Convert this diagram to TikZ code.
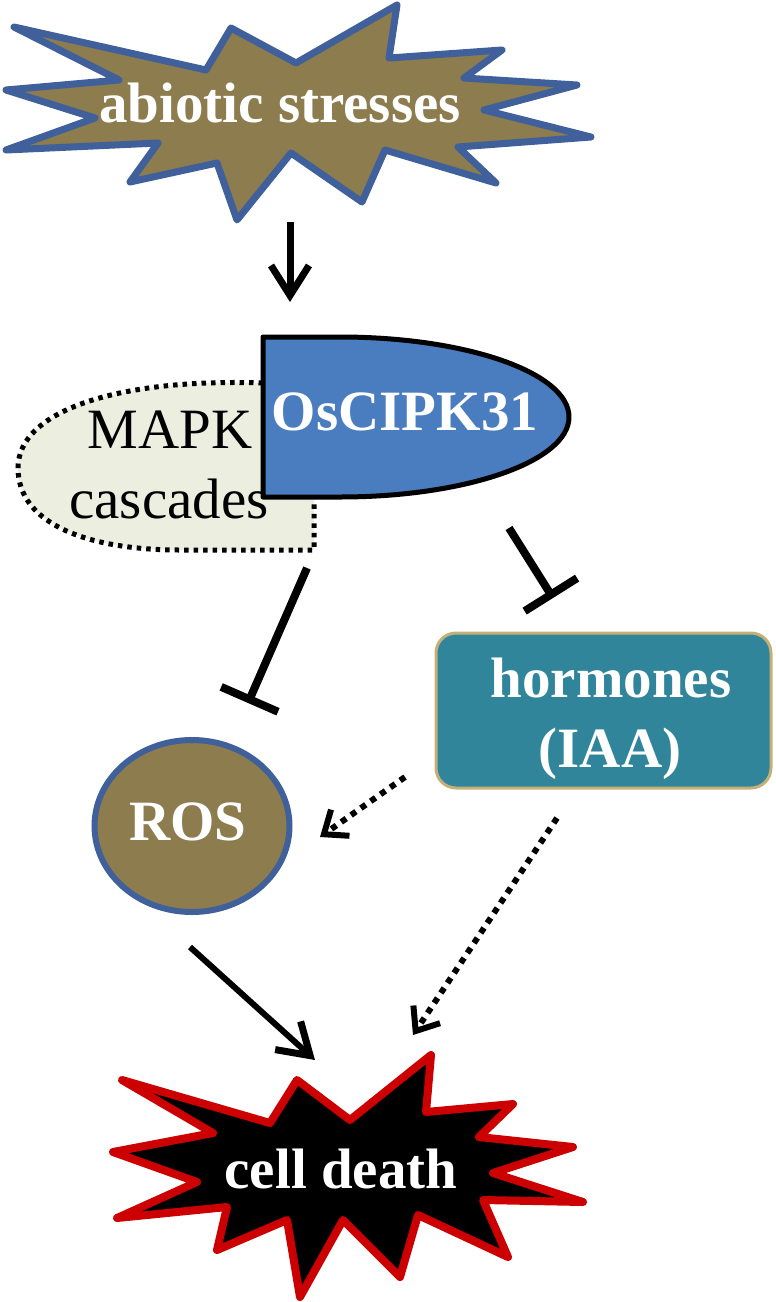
\documentclass[tikz,border=0pt]{standalone}
\usepackage{fontspec}
\setmainfont{Liberation Serif}
\usetikzlibrary{arrows.meta,shapes.geometric}
\definecolor{starfill}{RGB}{140,124,78}
\definecolor{starborder}{RGB}{63,96,155}
\definecolor{oscfill}{RGB}{74,125,191}
\definecolor{mapkfill}{RGB}{236,238,224}
\definecolor{hormfill}{RGB}{49,133,155}
\definecolor{hormborder}{RGB}{196,176,118}
\definecolor{deathred}{RGB}{204,0,0}
\begin{document}
\begin{tikzpicture}[x=1pt,y=-1pt,
  boldlbl/.style={font=\fontsize{57}{68}\selectfont\bfseries, text=white, anchor=base, inner sep=0pt},
  plainlbl/.style={font=\fontsize{57}{68}\selectfont, text=black, anchor=base, inner sep=0pt},
  actarrow/.style={line width=7pt, -{Straight Barb[length=30pt,width=38pt,line width=7pt]}},
  inhline/.style={line width=8pt, -{Bar[width=62pt,line width=8pt]}},
  dotarrow/.style={line width=6pt, dash pattern=on 6pt off 6pt, -{Straight Barb[length=20pt,width=32pt,line width=6pt]}},
  mapkdots/.style={line width=5pt, dash pattern=on 4.5pt off 5pt}
]
\useasboundingbox (0,0) rectangle (776,1302);

% abiotic stresses star
\draw[starborder, line width=7pt, fill=starfill, line join=round]
  (14,27) -- (206,70) -- (231,28) -- (296,63) -- (397,5) -- (389,58) --
  (502,50) -- (464,78) -- (577,85) -- (484,110) -- (591,137) -- (458,147) --
  (496,183) -- (385,150) -- (362,202) -- (291,153) -- (237,220) -- (217,163) --
  (130,182) -- (158,143) -- (6,150) -- (95,118) -- (6,90) -- (119,80) -- cycle;
\node[boldlbl] (abiotic) at (280,122) {abiotic stresses};

% MAPK cascades
\fill[mapkfill] (263,383) .. controls (120,378) and (18,410) .. (18,468)
  .. controls (18,525) and (90,550) .. (180,550) -- (314,550) -- (314,497) -- (263,497) -- cycle;
\draw[mapkdots] (263,383) .. controls (120,378) and (18,410) .. (18,468)
  .. controls (18,525) and (90,550) .. (180,550) -- (314,550) -- (314,500);

% OsCIPK31
\draw[black, line width=5pt, fill=oscfill, line join=round]
  (263,337) -- (340,337) .. controls (466.5,337) and (569,372.8) .. (569,417)
  .. controls (569,461.2) and (466.5,497) .. (340,497) -- (263,497) -- cycle;
\node[boldlbl] (osc) at (405,430) {OsCIPK31};
\node[plainlbl] (mapk) at (170,448) {MAPK};
\node[plainlbl] (casc) at (169,518) {cascades};

% ROS
\node[ellipse, draw=starborder, line width=6pt, fill=starfill,
  minimum width=195pt, minimum height=172pt, inner sep=0pt] (ros) at (192,826) {};
\node[boldlbl] (rostxt) at (188,840) {ROS};

% hormones
\node[draw=hormborder, line width=3pt, fill=hormfill, rounded corners=20pt,
  minimum width=335pt, minimum height=155pt, inner sep=0pt] (horm) at (603.5,710.5) {};
\node[boldlbl] (hormtxt) at (611,697) {hormones};
\node[boldlbl] (iaatxt) at (610,767) {(IAA)};

% cell death star
\draw[deathred, line width=8pt, fill=black, line join=round]
  (122,1080) -- (270,1123) -- (297,1080) -- (350,1120) -- (431,1055) -- (426,1112) --
  (513,1104) -- (479,1137) -- (573,1147) -- (493,1173) -- (583,1202) -- (483,1200) --
  (508,1257) -- (418,1215) -- (400,1277) -- (343,1220) -- (300,1297) -- (287,1220) --
  (217,1250) -- (227,1207) -- (117,1218) -- (197,1182) -- (113,1152) -- (213,1133) -- cycle;
\node[boldlbl] (death) at (341,1188) {cell death};

% connector end points
\coordinate (s1) at (290,222);
\coordinate (e1) at (290,302);
\coordinate (s2) at (307,568);
\coordinate (e2) at (248,703);
\coordinate (s3) at (509,528);
\coordinate (e3) at (553,598);
\coordinate (s4) at (405,777);
\coordinate (e4) at (320,837);
\coordinate (s5) at (557,818);
\coordinate (e5) at (413,1035);
\coordinate (s6) at (190,947);
\coordinate (e6) at (315,1060);

% connectors
\draw[actarrow] (s1) -- (e1);
\draw[inhline] (s2) -- (e2);
\draw[inhline] (s3) -- (e3);
\draw[dotarrow] (s4) -- (e4);
\draw[dotarrow] (s5) -- (e5);
\draw[actarrow, line width=6pt] (s6) -- (e6);
\end{tikzpicture}
\end{document}
